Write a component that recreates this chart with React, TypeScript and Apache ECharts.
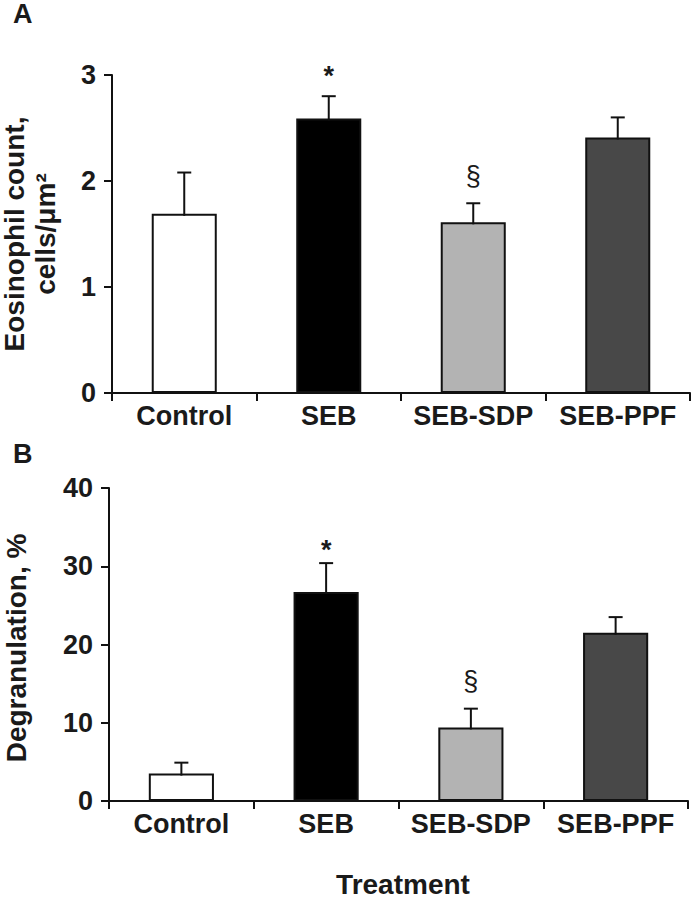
import React, { useEffect, useRef } from "react";
import * as echarts from "echarts";

const categories = ["Control", "SEB", "SEB-SDP", "SEB-PPF"];
const eosMean = [1.69, 2.59, 1.61, 2.41];
const eosErr = [0.39, 0.21, 0.18, 0.19];
const degMean = [3.5, 26.7, 9.4, 21.5];
const degErr = [1.4, 3.7, 2.4, 2.0];
const marks = ["", "*", "§", ""];
const eosTicks = { min: 0, max: 3, interval: 1 };
const degTicks = { min: 0, max: 40, interval: 10 };
const barColors = ["#ffffff", "#000000", "#b3b3b3", "#484848"];

const FONT = "'Liberation Sans', Arial, Helvetica, sans-serif";
const TXT = "#1a1a1a";

function errorSeries(gridIdx: number, mean: number[], err: number[], starGap: number) {
  return {
    type: "custom",
    xAxisIndex: gridIdx,
    yAxisIndex: gridIdx,
    z: 5,
    data: categories.map((_, i) => [i, mean[i], err[i]]),
    renderItem: (params: any, api: any) => {
      const idx = api.value(0);
      const m = api.value(1);
      const e = api.value(2);
      const base = api.coord([idx, m]);
      const top = api.coord([idx, m + e]);
      const hw = 7;
      const children: any[] = [
        {
          type: "line",
          shape: { x1: base[0], y1: base[1] + 2, x2: top[0], y2: top[1] },
          style: { stroke: "#111", lineWidth: 2 },
        },
        {
          type: "line",
          shape: { x1: top[0] - hw, y1: top[1], x2: top[0] + hw, y2: top[1] },
          style: { stroke: "#111", lineWidth: 2 },
        },
      ];
      const mk = marks[params.dataIndex];
      if (mk) {
        const gap = mk === "*" ? starGap : 14;
        children.push({
          type: "text",
          x: top[0],
          y: top[1] - gap,
          style: {
            text: mk,
            fill: TXT,
            font: (mk === "*" ? "bold " : "") + "27px " + FONT,
            align: "center",
            verticalAlign: "bottom",
          },
        });
      }
      return { type: "group", children };
    },
  };
}

function barSeries(gridIdx: number, mean: number[]) {
  return {
    type: "bar",
    xAxisIndex: gridIdx,
    yAxisIndex: gridIdx,
    barWidth: "45%",
    data: mean.map((v, i) => ({
      value: v,
      itemStyle: { color: barColors[i], borderColor: "#111", borderWidth: 2 },
    })),
  };
}

export default function App() {
  const ref = useRef<HTMLDivElement>(null);
  useEffect(() => {
    if (!ref.current) return;
    const chart = echarts.init(ref.current, null, { renderer: "svg" });
    const axisLine = { show: true, lineStyle: { color: "#111", width: 2 } };
    const axisTick = { show: true, length: 8, lineStyle: { color: "#111", width: 2 } };
    const xAxisBase = (gridIndex: number) => ({
      type: "category",
      gridIndex,
      data: categories,
      axisLine,
      axisTick: { ...axisTick, inside: false },
      axisLabel: {
        interval: 0,
        margin: 9,
        color: TXT,
        fontSize: 27,
        fontWeight: "bold",
        fontFamily: FONT,
      },
      splitLine: { show: false },
    });
    const yAxisBase = (gridIndex: number, t: any) => ({
      type: "value",
      gridIndex,
      min: t.min,
      max: t.max,
      interval: t.interval,
      axisLine,
      axisTick,
      axisLabel: {
        margin: 16,
        color: TXT,
        fontSize: 27,
        fontWeight: "bold",
        fontFamily: FONT,
      },
      splitLine: { show: false },
    });
    const titleStyle = {
      fill: TXT,
      font: "bold 28px " + FONT,
      align: "center",
      verticalAlign: "middle",
    };
    chart.setOption({
      animation: false,
      backgroundColor: "#ffffff",
      grid: [
        { left: 112, top: 75, width: 578, height: 318, containLabel: false },
        { left: 109, top: 488, width: 579, height: 313, containLabel: false },
      ],
      xAxis: [xAxisBase(0), xAxisBase(1)],
      yAxis: [yAxisBase(0, eosTicks), yAxisBase(1, degTicks)],
      series: [
        barSeries(0, eosMean),
        errorSeries(0, eosMean, eosErr, 7),
        barSeries(1, degMean),
        errorSeries(1, degMean, degErr, 0),
      ],
      graphic: [
        { type: "text", left: 13, top: 0, style: { text: "A", fill: TXT, font: "bold 27px " + FONT } },
        { type: "text", left: 13, top: 440, style: { text: "B", fill: TXT, font: "bold 27px " + FONT } },
        {
          type: "text",
          x: 30,
          y: 234,
          rotation: Math.PI / 2,
          style: { ...titleStyle, text: "Eosinophil count,\ncells/μm²", lineHeight: 31 },
        },
        {
          type: "text",
          x: 16,
          y: 648,
          rotation: Math.PI / 2,
          style: { ...titleStyle, text: "Degranulation, %" },
        },
        {
          type: "text",
          x: 403,
          y: 884,
          style: { ...titleStyle, text: "Treatment" },
        },
      ],
    });
    return () => chart.dispose();
  }, []);
  return (
    <div
      ref={ref}
      style={{ position: "fixed", left: 0, top: 0, width: 692, height: 899, background: "#fff" }}
    />
  );
}
